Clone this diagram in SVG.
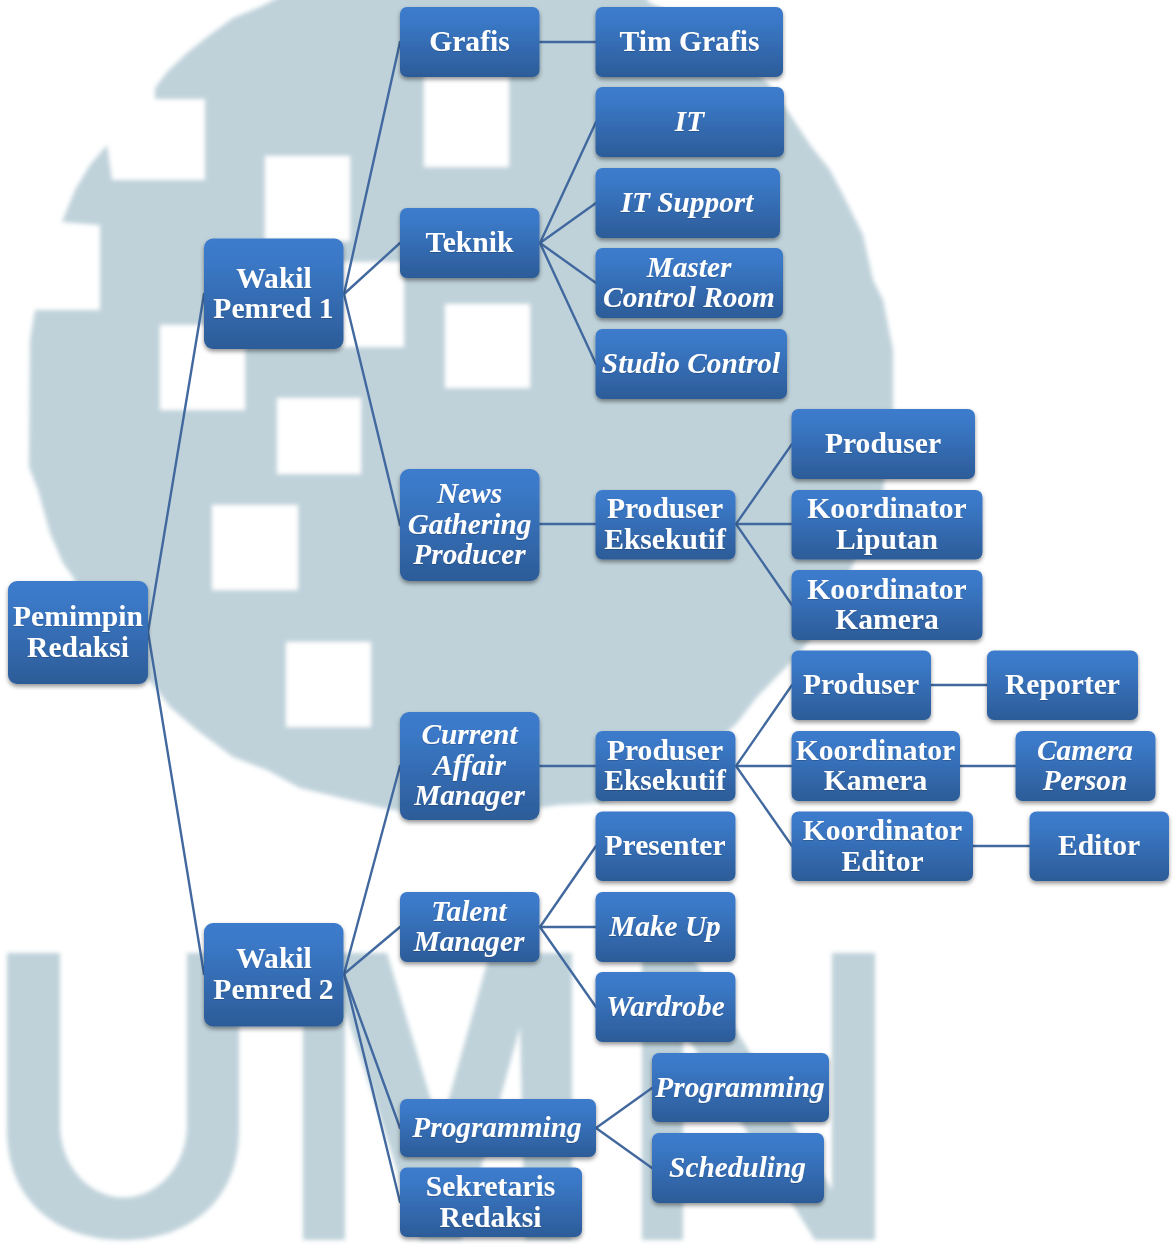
<svg xmlns="http://www.w3.org/2000/svg" width="1176" height="1245" viewBox="0 0 1176 1245">
<style>
.n{fill:url(#g);filter:url(#s)}
text{font-family:"Liberation Serif","Times New Roman",serif;font-size:29.6px;font-weight:bold;fill:#fff;text-anchor:middle;filter:url(#t)}
.i{font-style:italic;font-size:29.3px}
#connectors line{stroke:#41699f;stroke-width:2.4;stroke-linecap:round}
</style>
<defs>
<linearGradient id="g" x1="0" y1="0" x2="0" y2="1">
<stop offset="0" stop-color="#3c7bcc"/><stop offset="0.18" stop-color="#3b79c8"/><stop offset="1" stop-color="#2c5c98"/>
</linearGradient>
<filter id="s" x="-15%" y="-15%" width="130%" height="140%"><feDropShadow dx="0" dy="2.5" stdDeviation="2.2" flood-color="#000" flood-opacity="0.42"/></filter>
<filter id="t" x="-10%" y="-20%" width="120%" height="140%"><feDropShadow dx="0" dy="0.6" stdDeviation="0.6" flood-color="#000" flood-opacity="0.3"/></filter>
<filter id="b" x="-5%" y="-5%" width="110%" height="110%"><feGaussianBlur stdDeviation="2"/></filter>
</defs>
<rect width="1176" height="1245" fill="#fff"/>
<g id="watermark" filter="url(#b)">
<path fill="#bfd2da" d="M293,-10 L260,7 233,18 207,37 187,53 167,72 155,88 155,99 205,99 205,180 112,180 107,145 90,165 75,190 62,222 100,225 100,310 35,310 30,340 29,467 38,490 50,533 63,563 73,577 100,630 155,687 170,707 197,730 233,757 267,770 300,788 350,800 383,808 420,815 500,815 557,805 600,803 680,775 737,723 757,697 790,663 810,640 852,567 883,490 893,420 893,350 883,300 873,280 863,235 843,195 830,170 810,145 787,110 767,82 700,25 650,3 640,-10 Z"/>
<g fill="#fff">
<rect x="424" y="70" width="85" height="97"/>
<rect x="265" y="156" width="85" height="85"/>
<rect x="328" y="262" width="76" height="85"/>
<rect x="445" y="304" width="85" height="84"/>
<rect x="160" y="325" width="85" height="85"/>
<rect x="277" y="398" width="84" height="76"/>
<rect x="212" y="505" width="86" height="85"/>
<rect x="286" y="642" width="85" height="85"/>
</g>
<g fill="#bfd2da">
<path d="M7,953 H60 V1125 A63,72 0 0 0 187,1125 V953 H239 V1130 C239,1200 190,1240 123,1240 C56,1240 7,1200 7,1130 Z"/>
<path d="M303,953 L387,953 440,1130 490,953 572,953 572,1240 525,1240 520,1027 461,1240 420,1240 345,1010 345,1240 303,1240 Z"/>
<path d="M642,953 L690,953 832,1190 832,953 875,953 875,1240 815,1240 683,1030 683,1240 642,1240 Z"/>
</g>
</g>
<g id="connectors">
<line x1="148" y1="632" x2="204" y2="294"/><line x1="148" y1="632" x2="204" y2="974"/>
<line x1="344" y1="294" x2="400" y2="42"/><line x1="344" y1="294" x2="400" y2="243"/><line x1="344" y1="294" x2="400" y2="525"/>
<line x1="540" y1="42" x2="596" y2="42"/>
<line x1="540" y1="243" x2="596" y2="122"/><line x1="540" y1="243" x2="596" y2="203"/><line x1="540" y1="243" x2="596" y2="283"/><line x1="540" y1="243" x2="596" y2="364"/>
<line x1="540" y1="524" x2="596" y2="524"/>
<line x1="736" y1="524" x2="792" y2="444"/><line x1="736" y1="524" x2="792" y2="524"/><line x1="736" y1="524" x2="792" y2="605"/>
<line x1="344" y1="974" x2="400" y2="766"/><line x1="344" y1="974" x2="400" y2="927"/><line x1="344" y1="974" x2="400" y2="1128"/><line x1="344" y1="974" x2="400" y2="1202"/>
<line x1="540" y1="766" x2="596" y2="766"/>
<line x1="736" y1="766" x2="792" y2="685"/><line x1="736" y1="766" x2="792" y2="766"/><line x1="736" y1="766" x2="792" y2="846"/>
<line x1="931" y1="685" x2="987" y2="685"/><line x1="960" y1="766" x2="1016" y2="766"/><line x1="973" y1="846" x2="1030" y2="846"/>
<line x1="540" y1="927" x2="596" y2="846"/><line x1="540" y1="927" x2="596" y2="927"/><line x1="540" y1="927" x2="596" y2="1007"/>
<line x1="596" y1="1128" x2="652" y2="1088"/><line x1="596" y1="1128" x2="652" y2="1168"/>
</g>
<g id="pemimpin"><rect class="n" x="8" y="581" width="140" height="103" rx="9"/><text x="78" y="626">Pemimpin</text><text x="78" y="657">Redaksi</text></g>
<g id="wakil1"><rect class="n" x="204" y="238.500" width="139.500" height="110.500" rx="9"/><text x="274" y="288">Wakil</text><text x="273.500" y="318">Pemred 1</text></g>
<g id="wakil2"><rect class="n" x="204" y="923" width="139.500" height="103.500" rx="9"/><text x="274" y="968">Wakil</text><text x="273.500" y="999">Pemred 2</text></g>
<g id="grafis"><rect class="n" x="400" y="7" width="139.500" height="70" rx="7"/><text x="469.500" y="51">Grafis</text></g>
<g id="timgrafis"><rect class="n" x="595.500" y="7" width="187.500" height="70" rx="7"/><text x="689.500" y="51">Tim Grafis</text></g>
<g id="it"><rect class="n" x="595.500" y="87" width="188.500" height="70" rx="7"/><text class="i" x="689.500" y="131">IT</text></g>
<g id="itsupport"><rect class="n" x="595.500" y="168" width="184.500" height="70" rx="7"/><text class="i" x="687" y="212">IT Support</text></g>
<g id="master"><rect class="n" x="595.500" y="248" width="187.500" height="70" rx="7"/><text class="i" x="689" y="277">Master</text><text class="i" x="689" y="307">Control Room</text></g>
<g id="studio"><rect class="n" x="595.500" y="329" width="191.500" height="70" rx="7"/><text class="i" x="691" y="373">Studio Control</text></g>
<g id="teknik"><rect class="n" x="400" y="208" width="139.500" height="70" rx="7"/><text x="469.500" y="252">Teknik</text></g>
<g id="news"><rect class="n" x="400" y="469" width="139.500" height="112" rx="9"/><text class="i" x="469.500" y="503">News</text><text class="i" x="469.500" y="534">Gathering</text><text class="i" x="469.500" y="564">Producer</text></g>
<g id="pe1"><rect class="n" x="595.500" y="490" width="140" height="69.500" rx="7"/><text x="665" y="518">Produser</text><text x="665" y="549">Eksekutif</text></g>
<g id="produser1"><rect class="n" x="791.500" y="409" width="183.500" height="70" rx="7"/><text x="883" y="453">Produser</text></g>
<g id="kliputan"><rect class="n" x="791.500" y="490" width="191" height="69.500" rx="7"/><text x="887" y="518">Koordinator</text><text x="887" y="549">Liputan</text></g>
<g id="kkamera1"><rect class="n" x="791.500" y="570" width="191" height="70" rx="7"/><text x="887" y="599">Koordinator</text><text x="887" y="629">Kamera</text></g>
<g id="current"><rect class="n" x="400" y="712" width="139.500" height="108" rx="9"/><text class="i" x="469.500" y="744">Current</text><text class="i" x="469.500" y="775">Affair</text><text class="i" x="469.500" y="805">Manager</text></g>
<g id="pe2"><rect class="n" x="595.500" y="731" width="140" height="70" rx="7"/><text x="665" y="760">Produser</text><text x="665" y="790">Eksekutif</text></g>
<g id="produser2"><rect class="n" x="791.500" y="650.500" width="139.500" height="69.500" rx="7"/><text x="861" y="694">Produser</text></g>
<g id="reporter"><rect class="n" x="987" y="650.500" width="151" height="69.500" rx="7"/><text x="1062.500" y="694">Reporter</text></g>
<g id="kkamera2"><rect class="n" x="791.500" y="731" width="168.500" height="70" rx="7"/><text x="875.500" y="760">Koordinator</text><text x="875.500" y="790">Kamera</text></g>
<g id="camera"><rect class="n" x="1015.500" y="731" width="140" height="70" rx="7"/><text class="i" x="1085" y="760">Camera</text><text class="i" x="1085" y="790">Person</text></g>
<g id="keditor"><rect class="n" x="791.500" y="811.500" width="181.500" height="69.500" rx="7"/><text x="882.500" y="840">Koordinator</text><text x="882.500" y="871">Editor</text></g>
<g id="editor"><rect class="n" x="1029.500" y="811.500" width="139.500" height="69.500" rx="7"/><text x="1099" y="855">Editor</text></g>
<g id="presenter"><rect class="n" x="595.500" y="811.500" width="140" height="69.500" rx="7"/><text x="665" y="855">Presenter</text></g>
<g id="talent"><rect class="n" x="400" y="892" width="139.500" height="70" rx="7"/><text class="i" x="469" y="921">Talent</text><text class="i" x="469" y="951">Manager</text></g>
<g id="makeup"><rect class="n" x="595.500" y="892" width="140" height="70" rx="7"/><text class="i" x="665" y="936">Make Up</text></g>
<g id="wardrobe"><rect class="n" x="595.500" y="972" width="140" height="70" rx="7"/><text class="i" x="665.500" y="1016">Wardrobe</text></g>
<g id="programming1"><rect class="n" x="400" y="1099" width="196" height="58" rx="7"/><text class="i" x="497" y="1137">Programming</text></g>
<g id="sekretaris"><rect class="n" x="400" y="1167.500" width="182" height="69.500" rx="7"/><text x="490.500" y="1196">Sekretaris</text><text x="490.500" y="1227">Redaksi</text></g>
<g id="programming2"><rect class="n" x="652" y="1053" width="177" height="69" rx="7"/><text class="i" x="740" y="1097">Programming</text></g>
<g id="scheduling"><rect class="n" x="652" y="1133" width="172" height="70" rx="7"/><text class="i" x="737.500" y="1177">Scheduling</text></g>
</svg>
